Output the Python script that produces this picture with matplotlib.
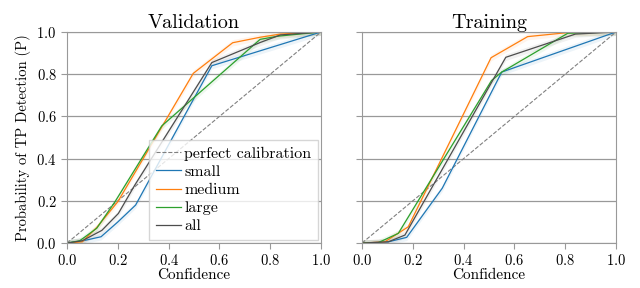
import matplotlib
matplotlib.use("Agg")
import matplotlib.pyplot as plt
import numpy as np

plt.rcParams['font.family'] = 'serif'
plt.rcParams['font.serif'] = ['cmr10', 'DejaVu Serif']
plt.rcParams['mathtext.fontset'] = 'cm'
plt.rcParams['axes.formatter.use_mathtext'] = True

# validation curves (confidence, probability)
val_small_x = [0.0, 0.06, 0.134, 0.2, 0.27, 0.57, 1.0]
val_small_y = [0.0, 0.01, 0.03, 0.10, 0.18, 0.84, 1.0]
val_medium_x = [0.0, 0.06, 0.117, 0.2, 0.497, 0.652, 0.76, 0.84, 1.0]
val_medium_y = [0.0, 0.006, 0.074, 0.196, 0.804, 0.949, 0.975, 0.99, 1.0]
val_large_x = [0.0, 0.05, 0.117, 0.189, 0.373, 0.76, 0.83, 1.0]
val_large_y = [0.0, 0.011, 0.07, 0.196, 0.555, 0.965, 0.98, 1.0]
val_all_x = [0.0, 0.06, 0.137, 0.202, 0.267, 0.57, 0.76, 0.84, 1.0]
val_all_y = [0.0, 0.011, 0.06, 0.14, 0.275, 0.855, 0.95, 0.986, 1.0]

# training curves
tr_small_x = [0.0, 0.104, 0.176, 0.316, 0.55, 1.0]
tr_small_y = [0.0, 0.006, 0.027, 0.26, 0.81, 1.0]
tr_medium_x = [0.0, 0.09, 0.182, 0.508, 0.652, 0.81, 1.0]
tr_medium_y = [0.0, 0.006, 0.077, 0.878, 0.978, 0.997, 1.0]
tr_large_x = [0.0, 0.064, 0.143, 0.51, 0.55, 0.81, 1.0]
tr_large_y = [0.0, 0.002, 0.046, 0.77, 0.81, 0.994, 1.0]
tr_all_x = [0.0, 0.104, 0.169, 0.566, 0.84, 1.0]
tr_all_y = [0.0, 0.006, 0.038, 0.88, 0.99, 1.0]

labels = ['small', 'medium', 'large', 'all']
colors = ['#1f77b4', '#ff7f0e', '#2ca02c', '#4d4d4d']

val_curves = [(val_small_x, val_small_y), (val_medium_x, val_medium_y),
              (val_large_x, val_large_y), (val_all_x, val_all_y)]
tr_curves = [(tr_small_x, tr_small_y), (tr_medium_x, tr_medium_y),
             (tr_large_x, tr_large_y), (tr_all_x, tr_all_y)]

fig = plt.figure(figsize=(6.4, 2.88), dpi=100)
ax1 = fig.add_axes([0.1047, 0.156, 0.397, 0.733])
ax2 = fig.add_axes([0.5656, 0.156, 0.397, 0.733])

for ax, curves, title in [(ax1, val_curves, 'Validation'), (ax2, tr_curves, 'Training')]:
    ax.plot([0, 1], [0, 1], ls='--', color='gray', lw=0.8, label='perfect calibration')
    for (x, y), lab, c in zip(curves, labels, colors):
        ax.fill_between(x, np.array(y) - 0.015, np.array(y) + 0.015, color=c, alpha=0.08, lw=0)
        ax.plot(x, y, color=c, lw=0.9, label=lab)
    ax.set_xlim(0, 1)
    ax.set_ylim(0, 1)
    ax.set_xticks([0, 0.2, 0.4, 0.6, 0.8, 1.0])
    ax.set_yticks([0, 0.2, 0.4, 0.6, 0.8, 1.0])
    ax.grid(axis='y', color='#999999', lw=0.9)
    ax.set_axisbelow(True)
    for s in ax.spines.values():
        s.set_color('#999999')
    ax.tick_params(colors='#999999', labelcolor='black', labelsize=10.5, length=4)
    ax.set_title(title, fontsize=14.5, pad=3)
    ax.set_xlabel('Confidence', fontsize=11, labelpad=0)

ax1.set_ylabel('Probability of TP Detection (P)', fontsize=10.5)
ax2.set_yticklabels([])
ax1.legend(loc='lower right', fontsize=11.5, fancybox=False, edgecolor='#cccccc',
           handlelength=1.6, handletextpad=0.2, borderpad=0.4, labelspacing=0.25,
           borderaxespad=0.2)

fig.savefig('out.png', dpi=100)
